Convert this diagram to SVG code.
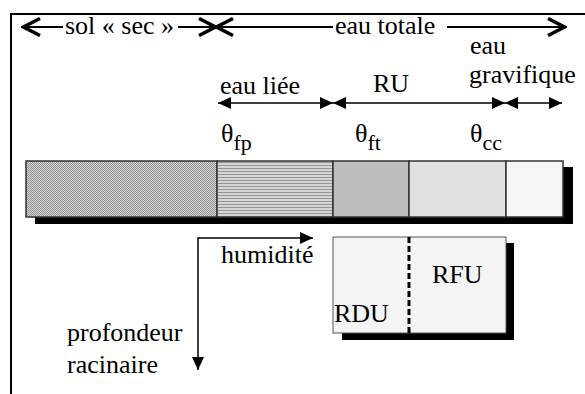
<svg xmlns="http://www.w3.org/2000/svg" width="585" height="394" viewBox="0 0 585 394">
<style>
text{font-family:"Liberation Serif",serif;font-size:26px;fill:#000}
.sub{font-size:22px}
.frame{stroke:#000;stroke-width:2;fill:none}
.ln{stroke:#000;stroke-width:2;fill:none}
.ln2{stroke:#000;stroke-width:1.5;fill:none}
.seg{stroke:#333;stroke-width:1.5}
.shadow{fill:#000}
</style>
<defs>
<pattern id="dots" width="2" height="2" patternUnits="userSpaceOnUse">
<rect width="2" height="2" fill="#d2d2d2"/>
<rect width="1" height="1" fill="#969696"/>
<rect x="1" y="1" width="1" height="1" fill="#969696"/>
</pattern>
<pattern id="stripes" width="3" height="3" patternUnits="userSpaceOnUse">
<rect width="3" height="3" fill="#d4d4d4"/>
<rect width="3" height="1" fill="#969696"/>
</pattern>
<marker id="chev" viewBox="0 0 22 20" markerWidth="22" markerHeight="20" refX="20" refY="10" orient="auto-start-reverse" markerUnits="userSpaceOnUse">
<path d="M3,1.5 L19.5,10 L3,18.5" fill="none" stroke="#000" stroke-width="3.5" stroke-linejoin="miter"/>
</marker>
<marker id="tri" viewBox="0 0 13 12" markerWidth="13" markerHeight="12" refX="13" refY="6" orient="auto-start-reverse" markerUnits="userSpaceOnUse">
<path d="M0,0 L13,6 L0,12 z" fill="#000"/>
</marker>
</defs>
<rect width="585" height="394" fill="#fff"/>
<g id="frame">
<path class="frame" d="M11,394 L11,14 L585,14"/>
</g>
<g id="bar">
<rect class="shadow" x="35" y="167" width="538" height="57"/>
<rect id="seg-sec" class="seg" x="26" y="161" width="191" height="56" fill="url(#dots)"/>
<rect id="seg-liee" class="seg" x="217" y="161" width="116" height="56" fill="url(#stripes)"/>
<rect id="seg-ru1" class="seg" x="333" y="161" width="76" height="56" fill="#bdbdbd"/>
<rect id="seg-ru2" class="seg" x="409" y="161" width="97" height="56" fill="#e0e0e0"/>
<rect id="seg-grav" class="seg" x="506" y="161" width="57" height="56" fill="#f5f5f5"/>
</g>
<g id="reserve">
<rect class="shadow" x="342" y="243" width="172" height="97"/>
<rect x="333" y="237" width="173" height="96" fill="#f4f4f4" stroke="#555" stroke-width="1"/>
<line x1="409" y1="237" x2="409" y2="333" stroke="#000" stroke-width="3" stroke-dasharray="6,3"/>
<text x="432" y="283">RFU</text>
<text x="334" y="322">RDU</text>
</g>
<g id="connectors">
<line class="ln" x1="23" y1="27" x2="63" y2="27" marker-start="url(#chev)"/>
<line class="ln" x1="178" y1="27" x2="216" y2="27" marker-end="url(#chev)"/>
<line class="ln" x1="216" y1="27" x2="333" y2="27" marker-start="url(#chev)"/>
<line class="ln" x1="447" y1="27" x2="565" y2="27" marker-end="url(#chev)"/>
<line class="ln2" x1="218" y1="103" x2="333" y2="103" marker-start="url(#tri)" marker-end="url(#tri)"/>
<line class="ln2" x1="333" y1="103" x2="505" y2="103" marker-start="url(#tri)" marker-end="url(#tri)"/>
<line class="ln2" x1="505" y1="103" x2="562" y2="103" marker-start="url(#tri)" marker-end="url(#tri)"/>
<line class="ln2" x1="198" y1="238" x2="313" y2="238" marker-end="url(#tri)"/>
<line class="ln2" x1="198" y1="237.25" x2="198" y2="370" marker-end="url(#tri)"/>
</g>
<g id="labels">
<text x="65" y="34">sol « sec »</text>
<text x="335" y="34">eau totale</text>
<text x="470" y="54">eau</text>
<text x="469" y="83">gravifique</text>
<text x="220" y="94">eau liée</text>
<text x="373" y="92">RU</text>
<text x="221" y="142">θ<tspan class="sub" dy="8">fp</tspan></text>
<text x="355" y="142">θ<tspan class="sub" dy="8">ft</tspan></text>
<text x="470" y="142">θ<tspan class="sub" dy="8">cc</tspan></text>
<text x="221" y="263">humidité</text>
<text x="67" y="341">profondeur</text>
<text x="67" y="373">racinaire</text>
</g>
</svg>
